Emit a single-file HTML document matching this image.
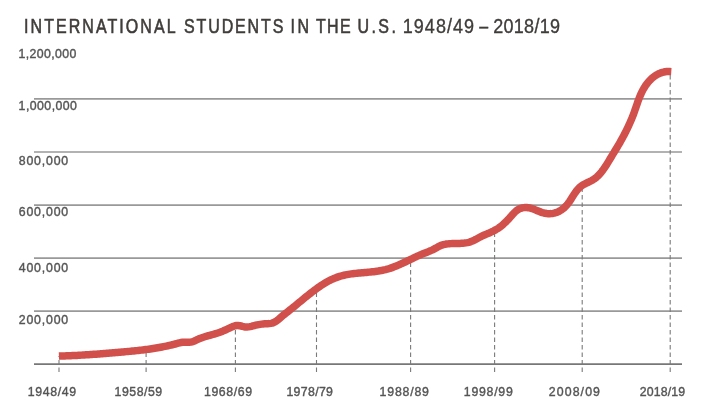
<!DOCTYPE html>
<html><head><meta charset="utf-8"><style>
html,body{margin:0;padding:0;background:#fff;}
body{width:722px;height:415px;overflow:hidden;}
svg{display:block;will-change:transform;}
text{font-family:"Liberation Sans",sans-serif;}
.yl,.xl{font-size:13px;fill:#555;stroke:#555;stroke-width:0.4px;}
.tt{font-size:20px;fill:#3f3c3a;stroke:#3f3c3a;stroke-width:0.6px;}
.td{font-size:20px;fill:#3f3c3a;stroke:#3f3c3a;stroke-width:0.35px;}
</style></head><body>
<svg width="722" height="415" viewBox="0 0 722 415">
<line x1="34" y1="98.8" x2="682" y2="98.8" stroke="#999" stroke-width="1.7"/>
<line x1="34" y1="152" x2="682" y2="152" stroke="#999" stroke-width="1.7"/>
<line x1="34" y1="205.1" x2="682" y2="205.1" stroke="#999" stroke-width="1.7"/>
<line x1="34" y1="258.1" x2="682" y2="258.1" stroke="#999" stroke-width="1.7"/>
<line x1="34" y1="311.2" x2="682" y2="311.2" stroke="#999" stroke-width="1.7"/>
<line x1="34" y1="364.2" x2="682" y2="364.2" stroke="#777" stroke-width="1.7"/>
<line x1="59" y1="372" x2="59" y2="356" stroke="#7a7a7a" stroke-width="1.1" stroke-dasharray="4.5 3"/>
<line x1="146.1" y1="372" x2="146.1" y2="349" stroke="#7a7a7a" stroke-width="1.1" stroke-dasharray="4.5 3"/>
<line x1="235.4" y1="372" x2="235.4" y2="326" stroke="#7a7a7a" stroke-width="1.1" stroke-dasharray="4.5 3"/>
<line x1="316.5" y1="372" x2="316.5" y2="290" stroke="#7a7a7a" stroke-width="1.1" stroke-dasharray="4.5 3"/>
<line x1="410.6" y1="372" x2="410.6" y2="262" stroke="#7a7a7a" stroke-width="1.1" stroke-dasharray="4.5 3"/>
<line x1="494.6" y1="372" x2="494.6" y2="233" stroke="#7a7a7a" stroke-width="1.1" stroke-dasharray="4.5 3"/>
<line x1="582.2" y1="372" x2="582.2" y2="187" stroke="#7a7a7a" stroke-width="1.1" stroke-dasharray="4.5 3"/>
<line x1="670.2" y1="372" x2="670.2" y2="72" stroke="#7a7a7a" stroke-width="1.1" stroke-dasharray="4.5 3"/>
<path d="M58.90 356.12 L60.40 356.07 L61.90 356.02 L63.40 355.97 L64.90 355.92 L66.40 355.86 L67.90 355.80 L69.41 355.74 L70.91 355.67 L72.41 355.60 L73.91 355.53 L75.41 355.45 L76.91 355.38 L78.41 355.30 L79.90 355.21 L81.40 355.13 L82.90 355.04 L84.40 354.95 L85.90 354.86 L87.40 354.76 L88.90 354.66 L90.40 354.56 L91.90 354.46 L93.39 354.36 L94.89 354.25 L96.39 354.14 L97.89 354.03 L99.38 353.92 L100.88 353.81 L102.38 353.69 L103.88 353.57 L105.37 353.45 L106.87 353.33 L108.37 353.21 L109.86 353.09 L111.36 352.96 L112.86 352.83 L114.35 352.71 L115.85 352.58 L117.35 352.45 L118.84 352.32 L120.34 352.18 L121.83 352.05 L123.33 351.91 L124.83 351.78 L126.32 351.64 L127.82 351.50 L129.31 351.36 L130.81 351.22 L132.30 351.07 L133.80 350.92 L135.29 350.76 L136.78 350.61 L138.28 350.44 L139.77 350.28 L141.26 350.10 L142.75 349.93 L144.24 349.74 L145.73 349.55 L147.22 349.36 L148.71 349.16 L150.20 348.95 L151.68 348.73 L153.17 348.51 L154.65 348.27 L156.13 348.03 L157.61 347.78 L159.09 347.53 L160.57 347.26 L162.05 346.98 L163.52 346.69 L164.99 346.39 L166.46 346.09 L167.93 345.77 L169.40 345.44 L170.86 345.09 L172.32 344.74 L173.77 344.37 L175.23 344.00 L176.68 343.61 L178.13 343.22 L179.58 342.85 L181.05 342.54 L182.54 342.32 L184.04 342.20 L185.54 342.18 L187.04 342.21 L188.54 342.21 L190.04 342.14 L191.53 341.93 L192.97 341.53 L194.37 340.98 L195.73 340.35 L197.09 339.70 L198.45 339.07 L199.84 338.49 L201.24 337.95 L202.65 337.45 L204.08 336.98 L205.51 336.53 L206.95 336.11 L208.40 335.70 L209.85 335.30 L211.29 334.90 L212.74 334.50 L214.18 334.09 L215.62 333.66 L217.06 333.21 L218.48 332.74 L219.90 332.23 L221.30 331.69 L222.69 331.14 L224.08 330.55 L225.45 329.95 L226.82 329.33 L228.19 328.70 L229.54 328.06 L230.90 327.42 L232.26 326.79 L233.66 326.22 L235.09 325.78 L236.57 325.51 L238.06 325.49 L239.55 325.68 L241.02 326.00 L242.48 326.37 L243.94 326.70 L245.42 326.94 L246.92 326.99 L248.42 326.88 L249.90 326.64 L251.37 326.31 L252.82 325.94 L254.28 325.56 L255.74 325.21 L257.20 324.88 L258.67 324.59 L260.16 324.34 L261.64 324.13 L263.14 323.97 L264.63 323.86 L266.13 323.79 L267.63 323.71 L269.13 323.60 L270.62 323.40 L272.09 323.10 L273.51 322.62 L274.86 321.97 L276.14 321.18 L277.35 320.28 L278.51 319.33 L279.65 318.35 L280.78 317.36 L281.92 316.39 L283.08 315.43 L284.24 314.49 L285.42 313.55 L286.59 312.61 L287.77 311.68 L288.95 310.75 L290.13 309.82 L291.30 308.89 L292.47 307.94 L293.64 307.00 L294.80 306.05 L295.96 305.10 L297.12 304.14 L298.28 303.19 L299.44 302.23 L300.60 301.28 L301.76 300.32 L302.92 299.36 L304.08 298.41 L305.24 297.46 L306.41 296.52 L307.58 295.57 L308.75 294.63 L309.93 293.70 L311.11 292.77 L312.29 291.85 L313.49 290.94 L314.69 290.04 L315.90 289.15 L317.11 288.27 L318.34 287.40 L319.57 286.55 L320.82 285.71 L322.08 284.89 L323.34 284.08 L324.62 283.30 L325.92 282.53 L327.22 281.79 L328.54 281.07 L329.87 280.38 L331.22 279.71 L332.58 279.08 L333.96 278.47 L335.34 277.90 L336.75 277.37 L338.16 276.87 L339.59 276.41 L341.04 275.99 L342.49 275.60 L343.95 275.25 L345.41 274.93 L346.89 274.64 L348.37 274.37 L349.85 274.13 L351.33 273.91 L352.82 273.71 L354.31 273.53 L355.81 273.36 L357.30 273.21 L358.79 273.06 L360.29 272.92 L361.79 272.79 L363.28 272.66 L364.78 272.54 L366.27 272.41 L367.77 272.28 L369.27 272.14 L370.76 271.99 L372.25 271.84 L373.75 271.67 L375.24 271.49 L376.73 271.28 L378.21 271.07 L379.69 270.82 L381.17 270.56 L382.64 270.26 L384.11 269.94 L385.57 269.59 L387.02 269.20 L388.46 268.79 L389.90 268.34 L391.32 267.86 L392.74 267.35 L394.14 266.83 L395.54 266.28 L396.93 265.71 L398.31 265.12 L399.69 264.52 L401.06 263.91 L402.43 263.29 L403.79 262.65 L405.15 262.01 L406.50 261.36 L407.85 260.71 L409.21 260.06 L410.56 259.41 L411.91 258.76 L413.27 258.11 L414.63 257.47 L415.99 256.83 L417.35 256.21 L418.72 255.60 L420.10 255.00 L421.48 254.41 L422.87 253.84 L424.27 253.29 L425.67 252.74 L427.06 252.19 L428.46 251.63 L429.84 251.05 L431.22 250.44 L432.58 249.80 L433.92 249.12 L435.23 248.40 L436.54 247.66 L437.85 246.92 L439.18 246.23 L440.55 245.61 L441.96 245.09 L443.40 244.67 L444.86 244.33 L446.34 244.06 L447.83 243.86 L449.32 243.72 L450.82 243.62 L452.32 243.55 L453.82 243.51 L455.32 243.48 L456.82 243.46 L458.32 243.43 L459.83 243.39 L461.33 243.32 L462.82 243.23 L464.32 243.09 L465.81 242.89 L467.29 242.63 L468.75 242.29 L470.19 241.87 L471.60 241.35 L472.98 240.76 L474.33 240.11 L475.67 239.42 L476.99 238.70 L478.31 237.98 L479.63 237.26 L480.96 236.56 L482.30 235.90 L483.67 235.28 L485.06 234.70 L486.45 234.13 L487.83 233.56 L489.22 232.98 L490.59 232.37 L491.95 231.73 L493.30 231.06 L494.62 230.36 L495.93 229.63 L497.22 228.86 L498.48 228.04 L499.72 227.19 L500.92 226.28 L502.09 225.34 L503.23 224.36 L504.33 223.35 L505.42 222.31 L506.48 221.25 L507.52 220.16 L508.55 219.07 L509.56 217.96 L510.56 216.84 L511.56 215.72 L512.56 214.59 L513.56 213.48 L514.60 212.39 L515.69 211.36 L516.84 210.40 L518.08 209.55 L519.41 208.85 L520.80 208.30 L522.25 207.89 L523.73 207.63 L525.22 207.50 L526.72 207.51 L528.22 207.66 L529.69 207.94 L531.15 208.32 L532.57 208.78 L533.98 209.30 L535.38 209.86 L536.76 210.44 L538.15 211.03 L539.54 211.59 L540.94 212.12 L542.37 212.60 L543.81 213.01 L545.28 213.32 L546.76 213.54 L548.26 213.66 L549.76 213.68 L551.26 213.60 L552.75 213.41 L554.22 213.11 L555.67 212.71 L557.08 212.20 L558.46 211.59 L559.79 210.90 L561.07 210.11 L562.30 209.26 L563.48 208.33 L564.60 207.33 L565.67 206.28 L566.69 205.17 L567.64 204.01 L568.56 202.82 L569.43 201.60 L570.27 200.35 L571.09 199.09 L571.89 197.83 L572.69 196.55 L573.50 195.29 L574.31 194.03 L575.15 192.78 L576.02 191.56 L576.93 190.36 L577.89 189.21 L578.92 188.11 L580.00 187.07 L581.16 186.12 L582.39 185.26 L583.69 184.49 L585.02 183.80 L586.37 183.15 L587.73 182.52 L589.09 181.88 L590.44 181.22 L591.77 180.52 L593.06 179.75 L594.31 178.92 L595.51 178.02 L596.67 177.06 L597.78 176.05 L598.84 174.99 L599.86 173.89 L600.85 172.75 L601.79 171.58 L602.70 170.39 L603.58 169.17 L604.44 167.94 L605.27 166.69 L606.08 165.43 L606.88 164.15 L607.67 162.87 L608.45 161.59 L609.22 160.30 L609.99 159.02 L610.77 157.73 L611.55 156.45 L612.33 155.17 L613.12 153.88 L613.90 152.60 L614.68 151.32 L615.46 150.04 L616.24 148.75 L617.02 147.47 L617.78 146.18 L618.55 144.88 L619.30 143.58 L620.05 142.28 L620.79 140.98 L621.52 139.66 L622.25 138.35 L622.96 137.03 L623.67 135.70 L624.37 134.38 L625.06 133.04 L625.74 131.70 L626.41 130.36 L627.08 129.01 L627.73 127.66 L628.37 126.30 L629.00 124.94 L629.62 123.57 L630.23 122.20 L630.82 120.82 L631.41 119.44 L631.98 118.05 L632.54 116.65 L633.09 115.26 L633.62 113.85 L634.14 112.44 L634.65 111.03 L635.15 109.61 L635.63 108.19 L636.12 106.77 L636.60 105.35 L637.09 103.93 L637.58 102.51 L638.08 101.09 L638.60 99.68 L639.13 98.28 L639.69 96.88 L640.27 95.50 L640.88 94.13 L641.51 92.77 L642.18 91.42 L642.89 90.09 L643.62 88.78 L644.39 87.50 L645.20 86.23 L646.05 84.99 L646.93 83.78 L647.86 82.59 L648.83 81.44 L649.84 80.33 L650.89 79.26 L651.99 78.24 L653.14 77.27 L654.33 76.36 L655.57 75.51 L656.85 74.73 L658.17 74.02 L659.54 73.39 L660.94 72.85 L662.37 72.40 L663.83 72.04 L665.30 71.77 L666.80 71.60 L668.30 71.52 L669.80 71.53 L671.30 71.63" fill="none" stroke="#d1504b" stroke-width="7.5" stroke-linejoin="round" stroke-linecap="butt"/>
<text class="tt" transform="translate(24.00 33.0) scale(0.8 1)" x="0" y="0" textLength="189.50" lengthAdjust="spacing">INTERNATIONAL</text>
<text class="tt" transform="translate(184.00 33.0) scale(0.8 1)" x="0" y="0" textLength="124.25" lengthAdjust="spacing">STUDENTS</text>
<text class="tt" transform="translate(290.40 33.0) scale(0.8 1)" x="0" y="0" textLength="23.25" lengthAdjust="spacing">IN</text>
<text class="tt" transform="translate(316.00 33.0) scale(0.8 1)" x="0" y="0" textLength="43.25" lengthAdjust="spacing">THE</text>
<text class="tt" transform="translate(357.40 33.0) scale(0.8 1)" x="0" y="0" textLength="48.25" lengthAdjust="spacing">U.S.</text>
<text class="td" transform="translate(402.80 33.0) scale(0.9 1)" x="0" y="0" textLength="79.11" lengthAdjust="spacing">1948/49</text>
<text class="td" transform="translate(479.20 33.0) scale(0.8 1)" x="0" y="0" textLength="8.50" lengthAdjust="spacing">–</text>
<text class="td" transform="translate(493.20 33.0) scale(0.9 1)" x="0" y="0" textLength="74.22" lengthAdjust="spacing">2018/19</text>
<text class="yl" transform="translate(18.40 58.2) scale(0.95 1)" x="0" y="0" textLength="61.05" lengthAdjust="spacing">1,200,000</text>
<text class="yl" transform="translate(18.60 110.0) scale(0.95 1)" x="0" y="0" textLength="61.47" lengthAdjust="spacing">1,000,000</text>
<text class="yl" transform="translate(18.80 164.8) scale(0.95 1)" x="0" y="0" textLength="52.00" lengthAdjust="spacing">800,000</text>
<text class="yl" transform="translate(18.80 216.4) scale(0.95 1)" x="0" y="0" textLength="52.00" lengthAdjust="spacing">600,000</text>
<text class="yl" transform="translate(18.80 271.7) scale(0.95 1)" x="0" y="0" textLength="52.00" lengthAdjust="spacing">400,000</text>
<text class="yl" transform="translate(18.80 323.7) scale(0.95 1)" x="0" y="0" textLength="52.00" lengthAdjust="spacing">200,000</text>
<text class="xl" transform="translate(27.80 396.3) scale(0.95 1)" x="0" y="0" textLength="50.95" lengthAdjust="spacing">1948/49</text>
<text class="xl" transform="translate(114.60 396.3) scale(0.95 1)" x="0" y="0" textLength="50.11" lengthAdjust="spacing">1958/59</text>
<text class="xl" transform="translate(204.00 396.3) scale(0.95 1)" x="0" y="0" textLength="50.53" lengthAdjust="spacing">1968/69</text>
<text class="xl" transform="translate(286.40 396.3) scale(0.95 1)" x="0" y="0" textLength="49.05" lengthAdjust="spacing">1978/79</text>
<text class="xl" transform="translate(379.60 396.3) scale(0.95 1)" x="0" y="0" textLength="52.00" lengthAdjust="spacing">1988/89</text>
<text class="xl" transform="translate(463.80 396.3) scale(0.95 1)" x="0" y="0" textLength="51.58" lengthAdjust="spacing">1998/99</text>
<text class="xl" transform="translate(548.80 396.3) scale(0.95 1)" x="0" y="0" textLength="53.89" lengthAdjust="spacing">2008/09</text>
<text class="xl" transform="translate(639.80 396.3) scale(0.95 1)" x="0" y="0" textLength="47.79" lengthAdjust="spacing">2018/19</text>
</svg>
</body></html>
